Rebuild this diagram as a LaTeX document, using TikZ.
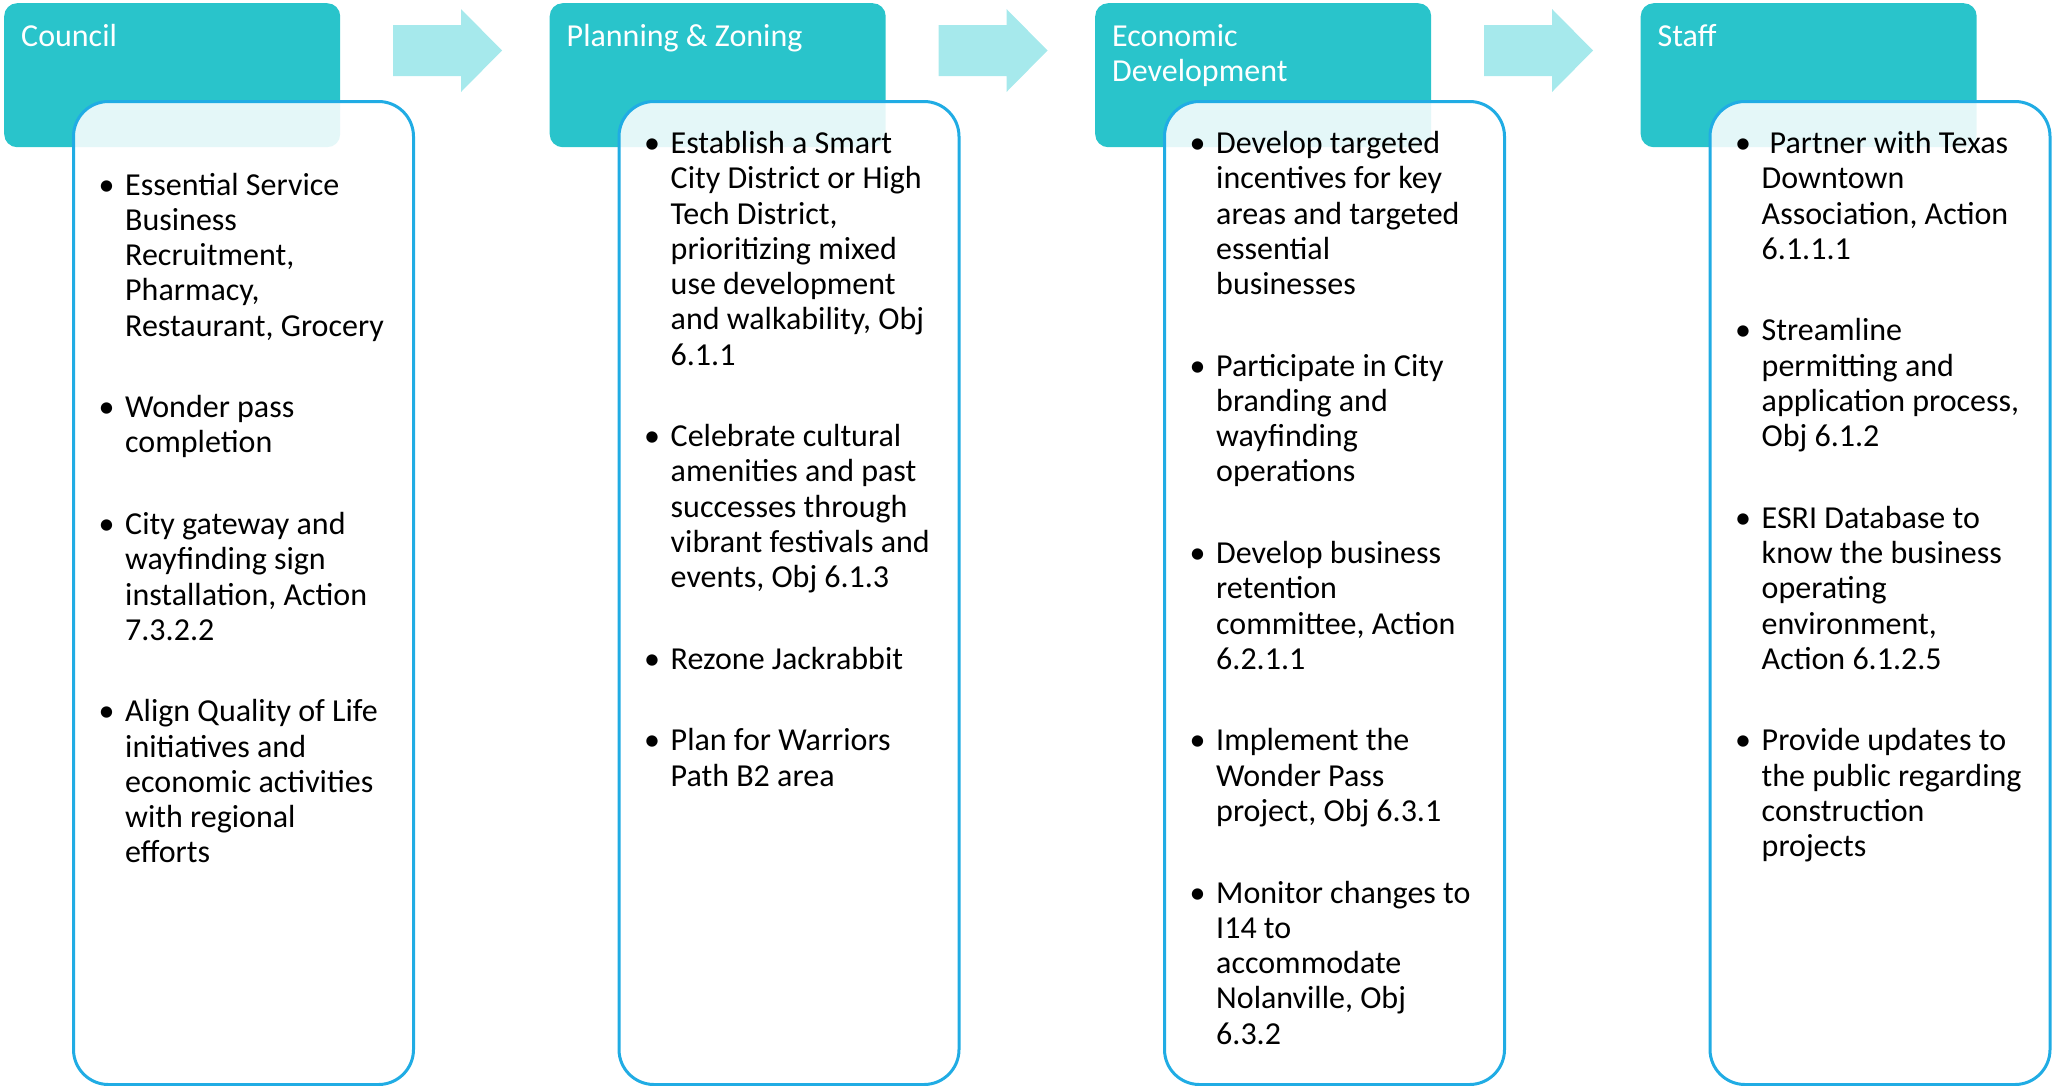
\documentclass[tikz,border=0pt]{standalone}
\usepackage{fontspec}
\setmainfont{Carlito}
\definecolor{hdrc}{RGB}{41,196,203}
\definecolor{arrc}{RGB}{166,233,236}
\definecolor{boxc}{RGB}{32,172,228}
\tikzset{
 hdrbox/.style={fill=hdrc, rounded corners=13pt, minimum width=336pt, minimum height=144pt, anchor=north west, inner sep=0pt},
 listbox/.style={draw=boxc, line width=3pt, fill=white, fill opacity=0.88, rounded corners=35pt, minimum width=340pt, minimum height=983pt, anchor=north west, inner sep=0pt},
 hdrtxt/.style={text=white, font=\fontsize{32}{35}\selectfont, anchor=base west, inner sep=0pt},
 bodytxt/.style={text=black, font=\fontsize{32}{35}\selectfont, anchor=base west, inner sep=0pt},
 bullettxt/.style={text=black, font=\fontsize{32}{35}\selectfont, anchor=base, inner sep=0pt},
 flowarrow/.style={fill=arrc}
}
\newcommand\bitem[4]{%
  \node[bullettxt] (#1-b) at (#2-18.5,#3) {\textbullet};
  \foreach \l [count=\i from 0] in {#4} {
    \node[bodytxt] (#1-\i) at (#2,#3+\i*35.25) {\l};
  }
}
\begin{document}
\begin{tikzpicture}[x=1pt,y=-1pt]
\useasboundingbox (0,0) rectangle (2055,1085);
% headers
\node[hdrbox] (h1) at (4,3) {};
\node[hdrbox] (h2) at (549.5,3) {};
\node[hdrbox] (h3) at (1095,3) {};
\node[hdrbox] (h4) at (1640.5,3) {};
% arrows
\foreach \k in {0,1,2} {
  \fill[flowarrow, xshift=\k*545.5pt] (393,25) -- (461,25) -- (461,9) -- (502,50.5) -- (461,92) -- (461,76) -- (393,76) -- cycle;
}
% list boxes
\node[listbox] (b1) at (72,100) {};
\node[listbox] (b2) at (617.5,100) {};
\node[listbox] (b3) at (1163,100) {};
\node[listbox] (b4) at (1708.5,100) {};
% header texts
\node[hdrtxt] (t1) at (21,46) {Council};
\node[hdrtxt] (t2) at (566.5,46) {Planning \& Zoning};
\node[hdrtxt] (t3a) at (1112,46) {Economic};
\node[hdrtxt] (t3b) at (1112,81) {Development};
\node[hdrtxt] (t4) at (1657.5,46) {Staff};
% Council
\bitem{c1}{125}{195}{Essential Service, Business, {Recruitment,}, {Pharmacy,}, {Restaurant, Grocery}}
\bitem{c2}{125}{417.65}{Wonder pass, completion}
\bitem{c3}{125}{534.55}{City gateway and, wayfinding sign, {installation, Action}, 7.3.2.2}
\bitem{c4}{125}{721.95}{Align Quality of Life, initiatives and, economic activities, with regional, efforts}
% Planning
\bitem{p1}{670.5}{153.5}{Establish a Smart, City District or High, {Tech District,}, prioritizing mixed, use development, {and walkability, Obj}, 6.1.1}
\bitem{p2}{670.5}{446.65}{Celebrate cultural, amenities and past, successes through, vibrant festivals and, {events, Obj 6.1.3}}
\bitem{p3}{670.5}{669.3}{Rezone Jackrabbit}
\bitem{p4}{670.5}{750.95}{Plan for Warriors, Path B2 area}
% Economic
\bitem{e1}{1216}{153.5}{Develop targeted, incentives for key, areas and targeted, essential, businesses}
\bitem{e2}{1216}{376.15}{Participate in City, branding and, wayfinding, operations}
\bitem{e3}{1216}{563.55}{Develop business, retention, {committee, Action}, 6.2.1.1}
\bitem{e4}{1216}{750.95}{Implement the, Wonder Pass, {project, Obj 6.3.1}}
\bitem{e5}{1216}{903.1}{Monitor changes to, I14 to, accommodate, {Nolanville, Obj}, 6.3.2}
% Staff
\bitem{s1}{1761.5}{153.5}{\hspace*{0.25em}Partner with Texas, Downtown, {Association, Action}, 6.1.1.1}
\bitem{s2}{1761.5}{340.9}{Streamline, permitting and, {application process,}, Obj 6.1.2}
\bitem{s3}{1761.5}{528.3}{ESRI Database to, know the business, operating, {environment,}, Action 6.1.2.5}
\bitem{s4}{1761.5}{750.95}{Provide updates to, the public regarding, construction, projects}
\end{tikzpicture}
\end{document}
